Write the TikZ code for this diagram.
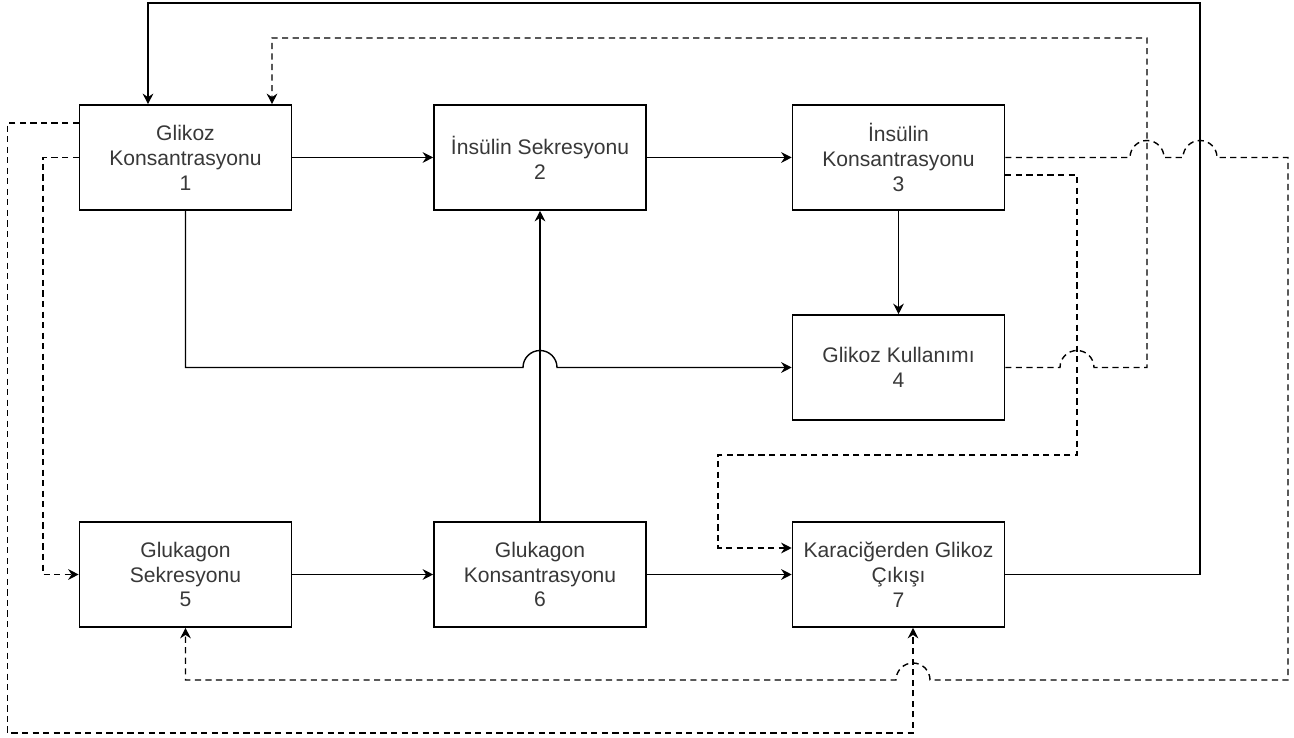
\documentclass[tikz,border=0pt]{standalone}
\usepackage{fontspec}
\setmainfont{Liberation Sans}
\usepackage{tikz}
\usetikzlibrary{arrows.meta}
\usetikzlibrary{calc}

\begin{document}
\begin{tikzpicture}[
        x=0.02cm, y=0.02cm, % 1 unidad = 1 px del dibujo original
        font=\fontsize{12}{14.2}\selectfont, % Fuente de las etiquetas
        bloque/.style={draw, line width=0.9pt, minimum width=4.24cm,
        minimum height=2.1cm, align=center, text=black!78}, % Estilo de los bloques
        flecha/.style={-{Stealth[length=6pt, width=6pt]}, line width=0.8pt}, % Conexiones continuas
        retro/.style={flecha, dash pattern=on 3.5pt off 2.5pt}, % Conexiones discontinuas
    ]
        \def\salto{17} % Radio de los saltos de linea
        \useasboundingbox (0,0) rectangle (1294,737);

        % --- Bloques ---
        \node[bloque] (k1) at (185.5,579.5) {Glikoz\\Konsantrasyonu\\1};
        \node[bloque] (k2) at (540,579.5) {İnsülin Sekresyonu\\2};
        \node[bloque] (k3) at (898.5,579.5) {İnsülin\\Konsantrasyonu\\3};
        \node[bloque] (k4) at (898.5,369.5) {Glikoz Kullanımı\\4};
        \node[bloque] (k5) at (185.5,162.5) {Glukagon\\Sekresyonu\\5};
        \node[bloque] (k6) at (540,162.5) {Glukagon\\Konsantrasyonu\\6};
        \node[bloque] (k7) at (898.5,162.5) {Karaciğerden Glikoz\\Çıkışı\\7};

        % --- Puntos de paso ---
        \coordinate (solArriba) at (1200,734);
        \coordinate (dashArriba) at (1147,699);
        \coordinate (esq37) at (1077,282);
        \coordinate (esq37b) at (718,282);
        \coordinate (derAbajo) at (1288,57);
        \coordinate (izqAbajo) at (7.5,4);
        \coordinate (izq5) at (43,162.5);
        \coordinate (entra7) at ($(k7.south)+(14.5,0)$);

        % --- Conexiones continuas ---
        \draw[flecha] (k1.east) -- (k2.west);
        \draw[flecha] (k2.east) -- (k3.west);
        \draw[flecha] (k3.south) -- (k4.north);
        \draw[flecha] (k5.east) -- (k6.west);
        \draw[flecha] (k6.east) -- (k7.west);
        \draw[flecha] (k6.north) -- (k2.south);
        \draw[flecha] (k1.south) |- ($(k6.north |- k4.west)+(-\salto,0)$)
            arc[start angle=180, end angle=0, radius=\salto] -- (k4.west);
        \draw[flecha] (k7.east) -| (solArriba) -| ($(k1.north)+(-37.5,0)$);

        % --- Conexiones discontinuas ---
        \draw[retro] ($(k3.east)+(0,-17.5)$) -| (esq37) -- (esq37b)
            |- ($(k7.west)+(0,26.5)$);
        \draw[retro] (k4.east) -- ($(esq37 |- k4.east)+(-\salto,0)$)
            arc[start angle=180, end angle=0, radius=\salto] -| (dashArriba)
            -| ($(k1.north)+(86.5,0)$);
        \draw[retro] (k3.east) -- ($(dashArriba |- k3.east)+(-\salto,0)$)
            arc[start angle=180, end angle=0, radius=\salto]
            -- ($(solArriba |- k3.east)+(-\salto,0)$)
            arc[start angle=180, end angle=0, radius=\salto] -| (derAbajo)
            -- ($(entra7 |- derAbajo)+(\salto,0)$)
            arc[start angle=0, end angle=180, radius=\salto] -| (k5.south);
        \draw[retro] (k1.west) -| (izq5) -- (k5.west);
        \draw[retro] ($(k1.west)+(0,34.5)$) -| (izqAbajo) -| (entra7);

    \end{tikzpicture}
\end{document}
